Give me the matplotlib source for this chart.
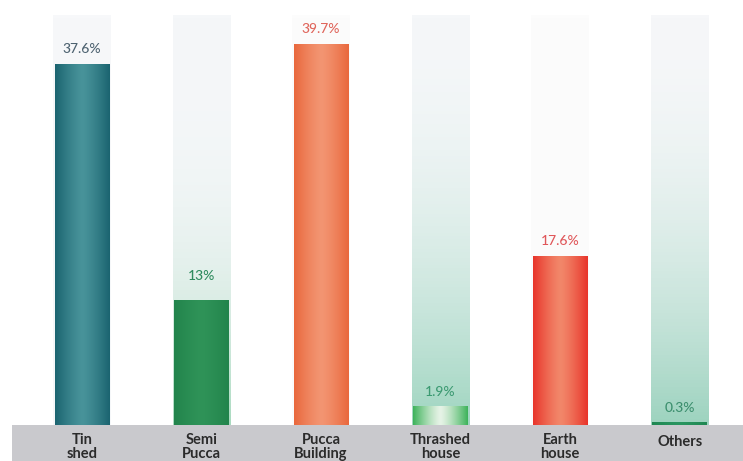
import matplotlib
matplotlib.use("Agg")
import matplotlib.pyplot as plt
import numpy as np
from matplotlib.patches import Rectangle

categories = ["Tin\nshed", "Semi\nPucca", "Pucca\nBuilding", "Thrashed\nhouse", "Earth\nhouse", "Others"]
values = [37.6, 13.0, 39.7, 1.9, 17.6, 0.3]
labels = ["37.6%", "13%", "39.7%", "1.9%", "17.6%", "0.3%"]

# edge colour, centre colour of each bar
bar_edges = ["#1b6470", "#22844c", "#e9683d", "#3fb35c", "#e8352b", "#1f8752"]
bar_mids = ["#48939a", "#2f9358", "#f39572", "#e6f3e6", "#f2876a", "#2a9560"]
label_colors = ["#4d6270", "#2e8b5e", "#e0665c", "#3c9a72", "#e0575a", "#3c8f6e"]
# track tint near the bottom, track tint at the top
track_low = ["#f5f7f9", "#a9dabf", "#fbfbfb", "#9fd5c0", "#fbfbfb", "#9dd3bf"]
track_high = ["#f7f8fa", "#f5f7f9", "#fcfcfc", "#f5f7f9", "#fcfcfc", "#f6f7f9"]

plt.rcParams["font.family"] = ["Lato", "DejaVu Sans"]

fig = plt.figure(figsize=(7.43, 4.61), dpi=100)
ax = fig.add_axes([0, 36 / 461, 1, 410 / 461])
ax.set_xlim(-0.686, 5.53)
ax.set_ylim(0, 42.8)
ax.axis("off")

x = np.arange(len(categories))
bw = 0.46
tw = 0.48


def hgrad(c1, c2, n=64):
    a = np.array(matplotlib.colors.to_rgb(c1))
    b = np.array(matplotlib.colors.to_rgb(c2))
    t = np.abs(np.linspace(-1, 1, n)) ** 1.3
    row = b[None, :] * (1 - t[:, None]) + a[None, :] * t[:, None]
    return row[None, :, :]


def vgrad(c_low, c_high, p, n=128):
    a = np.array(matplotlib.colors.to_rgb(c_low))
    b = np.array(matplotlib.colors.to_rgb(c_high))
    h = np.linspace(0, 1, n)
    m = (1 - h) ** p
    col = a[None, :] * m[:, None] + b[None, :] * (1 - m[:, None])
    return col[::-1][:, None, :]


powers = [1, 3, 1, 2, 1, 2]
for i, v in enumerate(values):
    # faint background track
    ax.imshow(vgrad(track_low[i], track_high[i], powers[i]),
              extent=[x[i] - tw / 2, x[i] + tw / 2, 0, 42.8], aspect="auto", zorder=1)
    ax.imshow(hgrad(bar_edges[i], bar_mids[i]), extent=[x[i] - bw / 2, x[i] + bw / 2, 0, v],
              aspect="auto", zorder=2)
    off = 1.0 if v > 5 else 0.9
    if i == 1:
        off = 1.9
    ax.text(x[i], v + off, labels[i], ha="center", va="bottom", fontsize=10,
            color=label_colors[i], fontweight="medium", zorder=3)

# grey category band
band = Rectangle((12 / 743, 0), 1, 36 / 461, transform=fig.transFigure,
                 facecolor="#c9c9cd", edgecolor="none", zorder=0)
fig.patches.append(band)
for i, c in enumerate(categories):
    xf = (x[i] + 0.686) / (5.53 + 0.686)
    yf = 19 / 461 if "\n" not in c else 14 / 461
    fig.text(xf, yf, c, ha="center", va="center", fontsize=10.5, color="#2b2b2b",
             fontweight="bold", linespacing=1.0)

fig.savefig("out.png", dpi=100)
